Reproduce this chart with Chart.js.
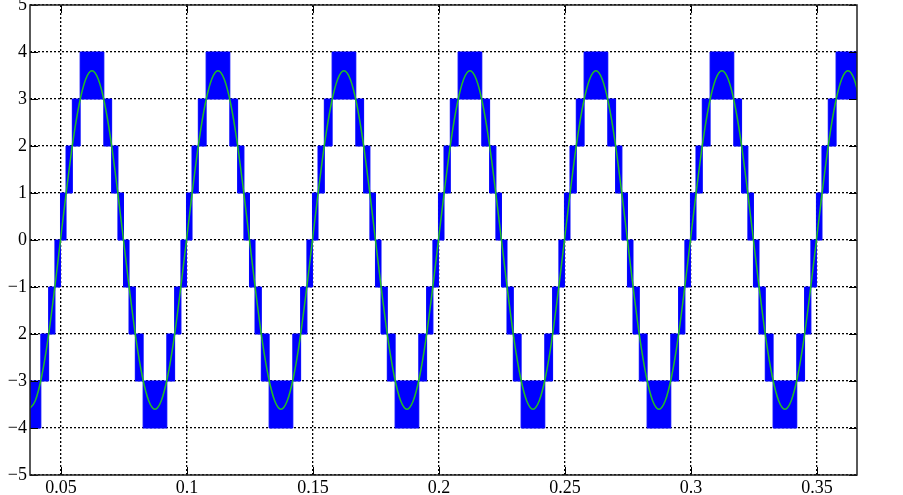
<!DOCTYPE html>
<html>
<head>
<meta charset="utf-8">
<script src="https://cdn.jsdelivr.net/npm/chart.js@4.4.1/dist/chart.umd.min.js"></script>
<style>
    html, body { margin: 0; padding: 0; background: #fff; }
    #wrap { width: 903px; height: 495px; position: relative; }
</style>
</head>
<body>
<div id="wrap"><canvas id="waveChart"></canvas></div>
<script>
// Axis ticks
const xTickValues = [0.05, 0.1, 0.15, 0.2, 0.25, 0.3, 0.35];
const xTickLabels = ['0.05', '0.1', '0.15', '0.2', '0.25', '0.3', '0.35'];
const yTickValues = [-5, -4, -3, -2, -1, 0, 1, 2, 3, 4, 5];
const yTickLabels = ['\u22125', '\u22124', '\u22123', '2', '\u22121', '0', '1', '2', '3', '4', '5'];

// Reference sine (green)
const sineTimes = [
    0.0373, 0.0398, 0.0423, 0.0448, 0.0473, 0.0498, 0.0523, 0.0548, 0.0573, 0.0598,
    0.0623, 0.0648, 0.0673, 0.0698, 0.0723, 0.0748, 0.0773, 0.0798, 0.0823, 0.0848,
    0.0873, 0.0898, 0.0923, 0.0948, 0.0973, 0.0998, 0.1023, 0.1048, 0.1073, 0.1098,
    0.1123, 0.1148, 0.1173, 0.1198, 0.1223, 0.1248, 0.1273, 0.1298, 0.1323, 0.1348,
    0.1373, 0.1398, 0.1423, 0.1448, 0.1473, 0.1498, 0.1523, 0.1548, 0.1573, 0.1598,
    0.1623, 0.1648, 0.1673, 0.1698, 0.1723, 0.1748, 0.1773, 0.1798, 0.1823, 0.1848,
    0.1873, 0.1898, 0.1923, 0.1948, 0.1973, 0.1998, 0.2023, 0.2048, 0.2073, 0.2098,
    0.2123, 0.2148, 0.2173, 0.2198, 0.2223, 0.2248, 0.2273, 0.2298, 0.2323, 0.2348,
    0.2373, 0.2398, 0.2423, 0.2448, 0.2473, 0.2498, 0.2523, 0.2548, 0.2573, 0.2598,
    0.2623, 0.2648, 0.2673, 0.2698, 0.2723, 0.2748, 0.2773, 0.2798, 0.2823, 0.2848,
    0.2873, 0.2898, 0.2923, 0.2948, 0.2973, 0.2998, 0.3023, 0.3048, 0.3073, 0.3098,
    0.3123, 0.3148, 0.3173, 0.3198, 0.3223, 0.3248, 0.3273, 0.3298, 0.3323, 0.3348,
    0.3373, 0.3398, 0.3423, 0.3448, 0.3473, 0.3498, 0.3523, 0.3548, 0.3573, 0.3598,
    0.3623, 0.3648, 0.3673
];
const sineValues = [
    -3.6, -3.42, -2.91, -2.12, -1.11, 0, 1.11, 2.12, 2.91, 3.42,
    3.6, 3.42, 2.91, 2.12, 1.11, 0, -1.11, -2.12, -2.91, -3.42,
    -3.6, -3.42, -2.91, -2.12, -1.11, 0, 1.11, 2.12, 2.91, 3.42,
    3.6, 3.42, 2.91, 2.12, 1.11, 0, -1.11, -2.12, -2.91, -3.42,
    -3.6, -3.42, -2.91, -2.12, -1.11, 0, 1.11, 2.12, 2.91, 3.42,
    3.6, 3.42, 2.91, 2.12, 1.11, 0, -1.11, -2.12, -2.91, -3.42,
    -3.6, -3.42, -2.91, -2.12, -1.11, 0, 1.11, 2.12, 2.91, 3.42,
    3.6, 3.42, 2.91, 2.12, 1.11, 0, -1.11, -2.12, -2.91, -3.42,
    -3.6, -3.42, -2.91, -2.12, -1.11, 0, 1.11, 2.12, 2.91, 3.42,
    3.6, 3.42, 2.91, 2.12, 1.11, 0, -1.11, -2.12, -2.91, -3.42,
    -3.6, -3.42, -2.91, -2.12, -1.11, 0, 1.11, 2.12, 2.91, 3.42,
    3.6, 3.42, 2.91, 2.12, 1.11, 0, -1.11, -2.12, -2.91, -3.42,
    -3.6, -3.42, -2.91, -2.12, -1.11, 0, 1.11, 2.12, 2.91, 3.42,
    3.6, 3.42, 2.91
];

// Multilevel PWM output (blue): switching band edges, lower and upper level
const pwmTimes = [
    0.0373, 0.0420, 0.0451, 0.0476, 0.0498,
    0.0520, 0.0545, 0.0576, 0.0670, 0.0701, 0.0726, 0.0748, 0.0770, 0.0795, 0.0826, 0.0920, 0.0951, 0.0976, 0.0998,
    0.1020, 0.1045, 0.1076, 0.1170, 0.1201, 0.1226, 0.1248, 0.1270, 0.1295, 0.1326, 0.1420, 0.1451, 0.1476, 0.1498,
    0.1520, 0.1545, 0.1576, 0.1670, 0.1701, 0.1726, 0.1748, 0.1770, 0.1795, 0.1826, 0.1920, 0.1951, 0.1976, 0.1998,
    0.2020, 0.2045, 0.2076, 0.2170, 0.2201, 0.2226, 0.2248, 0.2270, 0.2295, 0.2326, 0.2420, 0.2451, 0.2476, 0.2498,
    0.2520, 0.2545, 0.2576, 0.2670, 0.2701, 0.2726, 0.2748, 0.2770, 0.2795, 0.2826, 0.2920, 0.2951, 0.2976, 0.2998,
    0.3020, 0.3045, 0.3076, 0.3170, 0.3201, 0.3226, 0.3248, 0.3270, 0.3295, 0.3326, 0.3420, 0.3451, 0.3476, 0.3498,
    0.3520, 0.3545, 0.3576, 0.3673
];
const pwmLow = [
    -4, -3, -2, -1, 0,
    1, 2, 3, 2, 1, 0, -1, -2, -3, -4, -3, -2, -1, 0,
    1, 2, 3, 2, 1, 0, -1, -2, -3, -4, -3, -2, -1, 0,
    1, 2, 3, 2, 1, 0, -1, -2, -3, -4, -3, -2, -1, 0,
    1, 2, 3, 2, 1, 0, -1, -2, -3, -4, -3, -2, -1, 0,
    1, 2, 3, 2, 1, 0, -1, -2, -3, -4, -3, -2, -1, 0,
    1, 2, 3, 2, 1, 0, -1, -2, -3, -4, -3, -2, -1, 0,
    1, 2, 3, 3
];
const pwmHigh = [
    -3, -2, -1, 0, 1,
    2, 3, 4, 3, 2, 1, 0, -1, -2, -3, -2, -1, 0, 1,
    2, 3, 4, 3, 2, 1, 0, -1, -2, -3, -2, -1, 0, 1,
    2, 3, 4, 3, 2, 1, 0, -1, -2, -3, -2, -1, 0, 1,
    2, 3, 4, 3, 2, 1, 0, -1, -2, -3, -2, -1, 0, 1,
    2, 3, 4, 3, 2, 1, 0, -1, -2, -3, -2, -1, 0, 1,
    2, 3, 4, 3, 2, 1, 0, -1, -2, -3, -2, -1, 0, 1,
    2, 3, 4, 4
];

const BLUE = '#0000ff';
const GREEN = '#22c022';
const FONT = { family: '"Liberation Serif", serif', size: 18 };

// inner tick marks and frame, like the original plot box
const frameTicks = {
    id: 'frameTicks',
    afterDraw(chart) {
        const { ctx, chartArea: a, scales: { x, y } } = chart;
        const len = 8;
        ctx.save();
        ctx.strokeStyle = '#000';
        ctx.lineWidth = 1;
        ctx.beginPath();
        xTickValues.forEach(v => {
            const px = Math.round(x.getPixelForValue(v)) + 0.5;
            ctx.moveTo(px, a.bottom); ctx.lineTo(px, a.bottom - len);
            ctx.moveTo(px, a.top); ctx.lineTo(px, a.top + len);
        });
        yTickValues.forEach(v => {
            const py = Math.round(y.getPixelForValue(v)) + 0.5;
            ctx.moveTo(a.left, py); ctx.lineTo(a.left + len, py);
            ctx.moveTo(a.right, py); ctx.lineTo(a.right - len, py);
        });
        ctx.stroke();
        ctx.lineWidth = 1.5;
        ctx.strokeStyle = '#222';
        ctx.strokeRect(a.left, a.top, a.right - a.left, a.bottom - a.top);
        ctx.restore();
    }
};

// keep the plot box where the original has it, labels may overhang
function noLabelPadding(s) {
    s.paddingTop = 0;
    s.paddingBottom = 0;
    s.paddingLeft = 0;
    s.paddingRight = 0;
}

const ctx = document.getElementById('waveChart').getContext('2d');
new Chart(ctx, {
    type: 'line',
    data: {
        datasets: [
            {
                label: 'reference',
                data: sineTimes.map((t, i) => ({ x: t, y: sineValues[i] })),
                borderColor: GREEN,
                borderWidth: 1.5,
                pointRadius: 0,
                cubicInterpolationMode: 'monotone',
                fill: false,
                order: 0
            },
            {
                label: 'pwm high',
                data: pwmTimes.map((t, i) => ({ x: t, y: pwmHigh[i] })),
                stepped: true,
                borderColor: BLUE,
                borderWidth: 1,
                backgroundColor: BLUE,
                pointRadius: 0,
                fill: '+1',
                order: 1
            },
            {
                label: 'pwm low',
                data: pwmTimes.map((t, i) => ({ x: t, y: pwmLow[i] })),
                stepped: true,
                borderColor: BLUE,
                borderWidth: 1,
                pointRadius: 0,
                fill: false,
                order: 2
            }
        ]
    },
    options: {
        responsive: true,
        maintainAspectRatio: false,
        animation: false,
        events: [],
        layout: { padding: { top: 5, right: 46, bottom: 0, left: 0 } },
        plugins: {
            legend: { display: false },
            tooltip: { enabled: false }
        },
        scales: {
            x: {
                type: 'linear',
                min: 0.0377,
                max: 0.3659,
                afterBuildTicks: s => { s.ticks = xTickValues.map(v => ({ value: v })); },
                afterFit: s => { s.height = 20; noLabelPadding(s); },
                ticks: {
                    autoSkip: false,
                    maxRotation: 0,
                    padding: 2,
                    color: '#000',
                    font: FONT,
                    callback: (v, i) => xTickLabels[i]
                },
                grid: { color: '#000', lineWidth: 1.3, drawTicks: false },
                border: { display: false, dash: [2, 2] }
            },
            y: {
                type: 'linear',
                min: -5,
                max: 5,
                afterBuildTicks: s => { s.ticks = yTickValues.map(v => ({ value: v })); },
                afterFit: s => { s.width = 30; noLabelPadding(s); },
                ticks: {
                    autoSkip: false,
                    padding: 3,
                    color: '#000',
                    font: FONT,
                    callback: (v, i) => yTickLabels[i]
                },
                grid: { color: '#000', lineWidth: 1.3, drawTicks: false },
                border: { display: false, dash: [2, 2] }
            }
        }
    },
    plugins: [frameTicks]
});
</script>
</body>
</html>
